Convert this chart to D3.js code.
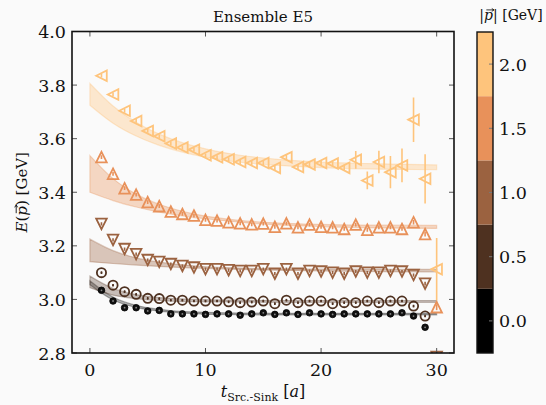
<!DOCTYPE html>
<html><head><meta charset="utf-8">
<script src="https://cdn.jsdelivr.net/npm/d3@7"></script>
<style>
html,body{margin:0;padding:0;background:#fafafa;}
svg{display:block;}
text{font-family:"DejaVu Serif",serif;fill:#111;}
</style></head>
<body>
<script>
// ---- data ----
const tSlices = [1,2,3,4,5,6,7,8,9,10,11,12,13,14,15,16,17,18,19,20,21,22,23,24,25,26,27,28,29,30];
const momenta = [0.0, 0.5, 1.0, 1.5, 2.0];
const seriesColors = ["#000000", "#4e3120", "#9b6240", "#e8915a", "#fec47c"];
const markerTypes = ["dot", "circle", "down", "up", "left"];

const E_p0 = [3.034,2.994,2.969,2.969,2.957,2.959,2.946,2.946,2.946,2.944,2.946,2.946,2.941,2.946,2.950,2.944,2.950,2.944,2.950,2.946,2.944,2.946,2.946,2.946,2.946,2.946,2.950,2.938,2.896,null];
const E_p05 = [3.100,3.053,3.029,3.019,3.004,3.003,2.997,2.997,2.994,2.994,2.994,2.991,2.988,2.990,2.994,2.984,2.997,2.988,2.994,2.994,2.984,2.988,2.988,2.994,2.988,2.994,2.994,2.975,2.938,null];
const E_p10 = [3.282,3.222,3.188,3.169,3.147,3.140,3.132,3.125,3.119,3.113,3.113,3.109,3.106,3.106,3.113,3.096,3.113,3.096,3.106,3.104,3.100,3.096,3.104,3.100,3.100,3.106,3.104,3.091,3.059,2.785];
const E_p15 = [3.531,3.469,3.415,3.391,3.363,3.348,3.328,3.319,3.313,3.297,3.294,3.288,3.284,3.280,3.283,3.271,3.284,3.269,3.279,3.271,3.269,3.263,3.279,3.260,3.269,3.269,3.263,3.288,3.244,2.971];
const E_p20 = [3.835,3.765,3.704,3.666,3.629,3.609,3.582,3.567,3.559,3.538,3.531,3.523,3.513,3.509,3.509,3.491,3.531,3.494,3.504,3.509,3.507,3.491,3.521,3.444,3.513,3.475,3.500,3.671,3.450,3.113];

const err_p0 = [0.001,0.001,0.001,0.001,0.001,0.001,0.001,0.001,0.001,0.001,0.001,0.001,0.001,0.001,0.001,0.001,0.001,0.001,0.001,0.001,0.001,0.001,0.001,0.001,0.001,0.001,0.001,0.001,0.001,0];
const err_p05 = [0.002,0.002,0.002,0.002,0.002,0.002,0.002,0.002,0.002,0.002,0.002,0.002,0.002,0.002,0.002,0.002,0.002,0.002,0.002,0.002,0.002,0.002,0.002,0.002,0.002,0.002,0.002,0.002,0.002,0];
const err_p10 = [0.003,0.003,0.003,0.003,0.003,0.003,0.003,0.003,0.003,0.003,0.003,0.003,0.003,0.003,0.003,0.003,0.003,0.003,0.003,0.003,0.003,0.003,0.003,0.003,0.003,0.003,0.003,0.003,0.004,0.02];
const err_p15 = [0.004,0.004,0.004,0.004,0.004,0.004,0.004,0.004,0.004,0.004,0.004,0.004,0.004,0.004,0.004,0.004,0.004,0.004,0.004,0.004,0.004,0.004,0.004,0.004,0.004,0.004,0.004,0.005,0.006,0.008];
const err_p20 = [0.004,0.004,0.004,0.004,0.004,0.004,0.004,0.004,0.004,0.004,0.004,0.005,0.005,0.005,0.006,0.006,0.007,0.007,0.008,0.008,0.009,0.009,0.033,0.033,0.042,0.060,0.063,0.083,0.092,0.116];

// fit bands (sampled edges)
const bandT = [0,2,4,6,8,10,13,16,20,25,30];
const band_p0_hi = [3.070,3.009,2.978,2.963,2.955,2.952,2.949,2.948,2.948,2.948,2.948];
const band_p0_lo = [3.055,2.998,2.970,2.956,2.949,2.945,2.943,2.942,2.942,2.942,2.942];
const band_p05_hi = [3.087,3.041,3.018,3.007,3.002,2.999,2.997,2.996,2.996,2.996,2.996];
const band_p05_lo = [3.044,3.016,3.003,2.996,2.992,2.991,2.990,2.989,2.989,2.989,2.989];
const band_p10_hi = [3.225,3.182,3.155,3.139,3.129,3.122,3.117,3.114,3.113,3.112,3.112];
const band_p10_lo = [3.141,3.134,3.128,3.123,3.119,3.116,3.112,3.109,3.106,3.104,3.103];
const band_p15_hi = [3.537,3.451,3.393,3.355,3.329,3.311,3.295,3.286,3.280,3.277,3.276];
const band_p15_lo = [3.400,3.369,3.345,3.326,3.312,3.301,3.288,3.279,3.272,3.267,3.265];
const band_p20_hi = [3.806,3.722,3.661,3.617,3.585,3.562,3.538,3.524,3.513,3.506,3.502];
const band_p20_lo = [3.725,3.658,3.610,3.575,3.550,3.531,3.512,3.501,3.492,3.486,3.484];

const xTicks = [0,10,20,30];
const yTicks = [2.8,3.0,3.2,3.4,3.6,3.8,4.0];
const cbTicks = [0.0,0.5,1.0,1.5,2.0];

const seriesE = [E_p0, E_p05, E_p10, E_p15, E_p20];
const seriesErr = [err_p0, err_p05, err_p10, err_p15, err_p20];
const bandsHi = [band_p0_hi, band_p05_hi, band_p10_hi, band_p15_hi, band_p20_hi];
const bandsLo = [band_p0_lo, band_p05_lo, band_p10_lo, band_p15_lo, band_p20_lo];

// ---- layout ----
const W = 546, H = 405;
const L = 72, R = 454, T = 31.5, B = 353;
const svg = d3.select("body").append("svg").attr("width", W).attr("height", H);
svg.append("rect").attr("width", W).attr("height", H).attr("fill", "#fafafa");

const x = d3.scaleLinear().domain([-1.55, 31.5]).range([L, R]);
const y = d3.scaleLinear().domain([2.8, 4.0]).range([B, T]);

svg.append("clipPath").attr("id", "clip").append("rect")
  .attr("x", L).attr("y", T).attr("width", R - L).attr("height", B - T);
const plot = svg.append("g").attr("clip-path", "url(#clip)");

// bands
momenta.forEach((p, i) => {
  const pts = bandT.map((t, k) => ({t, hi: bandsHi[i][k], lo: bandsLo[i][k]}));
  const area = d3.area().x(d => x(d.t)).y0(d => y(d.lo)).y1(d => y(d.hi)).curve(d3.curveMonotoneX);
  plot.append("path").datum(pts).attr("d", area)
    .attr("fill", seriesColors[i]).attr("fill-opacity", i < 2 ? 0.3 : 0.35)
    .attr("stroke", seriesColors[i]).attr("stroke-opacity", i < 2 ? 0.3 : 0.35).attr("stroke-width", 1.2);
});

// markers
function markerPath(type, s) {
  if (type === "left") return `M${-s},0L${s},${-s}L${s},${s}Z`;
  if (type === "up") return `M0,${-s}L${s},${s}L${-s},${s}Z`;
  if (type === "down") return `M0,${s}L${s},${-s}L${-s},${-s}Z`;
  return null;
}
momenta.forEach((p, i) => {
  const col = seriesColors[i];
  const data = tSlices.map((t, k) => ({t, e: seriesE[i][k], err: seriesErr[i][k]})).filter(d => d.e !== null);
  const g = plot.append("g");
  g.selectAll("line.err").data(data).join("line")
    .attr("x1", d => x(d.t)).attr("x2", d => x(d.t))
    .attr("y1", d => y(d.e - d.err) + (d.err < 0.01 ? 0.8 : 0))
    .attr("y2", d => y(d.e + d.err) - (d.err < 0.01 ? 0.8 : 0))
    .attr("stroke", i === 0 ? "#9a9a9a" : col).attr("stroke-width", 1.6);
  const type = markerTypes[i];
  if (type === "dot") {
    g.selectAll("circle.m").data(data).join("circle")
      .attr("cx", d => x(d.t)).attr("cy", d => y(d.e)).attr("r", 3.3)
      .attr("fill", "#111").attr("stroke", "#000").attr("stroke-width", 0.8);
    g.selectAll("circle.c").data(data).join("circle")
      .attr("cx", d => x(d.t)).attr("cy", d => y(d.e)).attr("r", 0.9)
      .attr("fill", "#8a8a8a");
  } else if (type === "circle") {
    g.selectAll("circle.m").data(data).join("circle")
      .attr("cx", d => x(d.t)).attr("cy", d => y(d.e)).attr("r", 4.6)
      .attr("fill", "none").attr("stroke", col).attr("stroke-width", 1.8);
    g.selectAll("circle.c").data(data).join("circle")
      .attr("cx", d => x(d.t)).attr("cy", d => y(d.e)).attr("r", 0.9)
      .attr("fill", col);
  } else {
    g.selectAll("path.m").data(data).join("path")
      .attr("transform", d => `translate(${x(d.t)},${y(d.e)})`)
      .attr("d", markerPath(type, 5.3))
      .attr("fill", "none").attr("stroke", col).attr("stroke-width", 1.8)
      .attr("stroke-linejoin", "miter");
  }
});

// frame & ticks
const axisG = svg.append("g");
xTicks.forEach(v => {
  axisG.append("line").attr("x1", x(v)).attr("x2", x(v)).attr("y1", B).attr("y2", B - 5).attr("stroke", "#555").attr("stroke-width", 1);
  axisG.append("line").attr("x1", x(v)).attr("x2", x(v)).attr("y1", T).attr("y2", T + 5).attr("stroke", "#555").attr("stroke-width", 1);
  axisG.append("text").attr("x", x(v)).attr("y", B + 23).attr("text-anchor", "middle").attr("font-size", 17.5).text(d3.format("d")(v));
});
yTicks.forEach(v => {
  axisG.append("line").attr("x1", L).attr("x2", L + 5).attr("y1", y(v)).attr("y2", y(v)).attr("stroke", "#555").attr("stroke-width", 1);
  axisG.append("line").attr("x1", R).attr("x2", R - 5).attr("y1", y(v)).attr("y2", y(v)).attr("stroke", "#555").attr("stroke-width", 1);
  axisG.append("text").attr("x", L - 6).attr("y", y(v) + 6.5).attr("text-anchor", "end").attr("font-size", 17.5).text(d3.format(".1f")(v));
});
axisG.append("rect").attr("x", L).attr("y", T).attr("width", R - L).attr("height", B - T)
  .attr("fill", "none").attr("stroke", "#111").attr("stroke-width", 1.6);

// vector arrow over a character of a text element
function addArrow(textSel, charIndex, size) {
  const node = textSel.node();
  const s = node.getStartPositionOfChar(charIndex);
  const e = node.getEndPositionOfChar(charIndex);
  const parent = d3.select(node.parentNode);
  const cx = (s.x + e.x) / 2 + size * 0.12;
  const yTop = s.y - size * 0.72;
  const w = size * 0.55;
  const gA = parent.append("g").attr("transform", node.getAttribute("transform") || null);
  gA.append("line").attr("x1", cx - w / 2).attr("x2", cx + w / 2).attr("y1", yTop).attr("y2", yTop)
    .attr("stroke", "#111").attr("stroke-width", size * 0.06);
  gA.append("path").attr("d", `M${cx + w / 2 - size * 0.16},${yTop - size * 0.1}L${cx + w / 2},${yTop}L${cx + w / 2 - size * 0.16},${yTop + size * 0.1}`)
    .attr("fill", "none").attr("stroke", "#111").attr("stroke-width", size * 0.06);
}

// title & labels
svg.append("text").attr("x", (L + R) / 2).attr("y", 22).attr("text-anchor", "middle").attr("font-size", 15).text("Ensemble E5");

const yl = svg.append("text").attr("transform", `translate(27,${(T + B) / 2}) rotate(-90)`).attr("text-anchor", "middle").attr("font-size", 15);
yl.append("tspan").attr("font-style", "italic").text("E");
yl.append("tspan").text("(");
yl.append("tspan").attr("font-style", "italic").text("p");
yl.append("tspan").text(") [GeV]");
addArrow(yl, 2, 15);

const xl = svg.append("text").attr("x", (L + R) / 2).attr("y", 397).attr("text-anchor", "middle").attr("font-size", 16);
xl.append("tspan").attr("font-style", "italic").text("t");
xl.append("tspan").attr("font-size", 11).attr("dy", 4).text("Src.-Sink");
xl.append("tspan").attr("dy", -4).text(" [");
xl.append("tspan").attr("font-style", "italic").text("a");
xl.append("tspan").text("]");

// colorbar
const cbX = 477, cbW = 16;
const cb = d3.scaleLinear().domain([-0.25, 2.25]).range([353, 32]);
const cbG = svg.append("g");
momenta.forEach((p, i) => {
  cbG.append("rect").attr("x", cbX).attr("width", cbW)
    .attr("y", cb(p + 0.25)).attr("height", cb(p - 0.25) - cb(p + 0.25))
    .attr("fill", seriesColors[i]);
});
cbTicks.forEach(v => {
  cbG.append("line").attr("x1", cbX + cbW - 4).attr("x2", cbX + cbW).attr("y1", cb(v)).attr("y2", cb(v)).attr("stroke", "#777").attr("stroke-width", 1);
  cbG.append("text").attr("x", cbX + cbW + 6).attr("y", cb(v) + 6.5).attr("font-size", 17.5).text(d3.format(".1f")(v));
});
cbG.append("rect").attr("x", cbX).attr("y", 32).attr("width", cbW).attr("height", 321)
  .attr("fill", "none").attr("stroke", "#111").attr("stroke-width", 1.4);
const cbl = svg.append("text").attr("x", 511).attr("y", 20).attr("text-anchor", "middle").attr("font-size", 14);
cbl.append("tspan").text("|");
cbl.append("tspan").attr("font-style", "italic").text("p");
cbl.append("tspan").text("| [GeV]");
addArrow(cbl, 1, 14);
</script>
</body></html>
